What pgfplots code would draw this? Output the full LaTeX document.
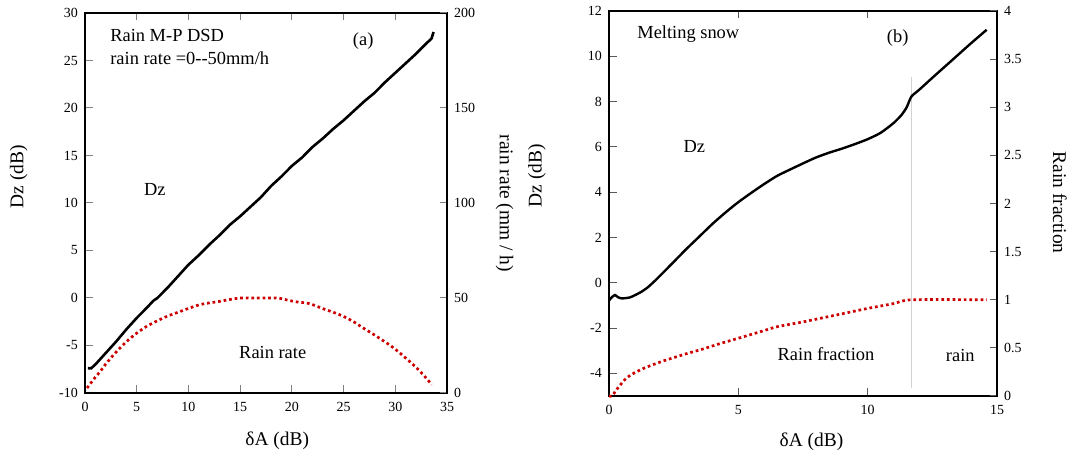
\documentclass[border=0pt]{standalone}
\usepackage{fontspec}
\setmainfont{Liberation Serif}
\usepackage{pgfplots}
\pgfplotsset{compat=1.18}
\definecolor{rred}{RGB}{204,0,0}
\pgfplotsset{
 base/.style={scale only axis, anchor=south west, tick align=inside, major tick length=7.5bp,
   tick label style={font=\fontsize{14}{16}\selectfont},
   /pgf/number format/assume math mode=true,
   label style={font=\fontsize{19.5}{22}\selectfont},
   xticklabel style={inner sep=9bp}, yticklabel style={inner sep=7bp},
   axis line style={line width=1.1bp}, tick style={line width=1bp}, clip=false},
 dzline/.style={black, line width=2.6bp, no markers},
 rrline/.style={rred, line width=2.7bp, dash pattern=on 2.7bp off 2.9bp, no markers}
}
\tikzset{ann/.style={font=\fontsize{18.5}{21}\selectfont, inner sep=0pt}}
\begin{document}
\begin{tikzpicture}
\path[use as bounding box] (0,0) rectangle (1072bp,459bp);
% ---------------- panel (a)
\begin{axis}[base, at={(85bp,66bp)}, width=362bp, height=380bp,
  xmin=0, xmax=35, ymin=-10, ymax=30,
  xtick={0,5,...,35}, ytick={-10,-5,...,30},
  xtick pos=both, xticklabel pos=lower, ytick pos=left,
  xlabel={δA (dB)}, ylabel={Dz (dB)},
  xlabel style={at={(axis description cs:0.531,-0.127)}, anchor=center},
  ylabel style={at={(axis description cs:-0.183,0.569)}, anchor=center}]
\addplot[dzline] coordinates {(0.27,-7.4)(0.6,-7.4)(1,-7.0)(2,-5.8)(3,-4.6)(4,-3.3)(5,-2.1)(6,-1.0)(6.6,-0.3)(7,0.0)(8,1.1)(9,2.3)(10,3.5)(11,4.5)(12,5.6)(13,6.6)(14,7.7)(15,8.6)(16,9.6)(17,10.6)(18,11.8)(19,12.8)(20,13.9)(21,14.8)(22,15.9)(23,16.8)(24,17.8)(25,18.7)(26,19.7)(27,20.7)(28,21.6)(29,22.7)(30,23.7)(31,24.7)(32,25.7)(33,26.8)(33.5,27.3)(33.7,28.0)};
\node[ann, anchor=west] at (axis cs:2.43,27.65) {Rain M-P DSD};
\node[ann, anchor=west] at (axis cs:2.43,25.2) {rain rate =0-{}-50mm/h};
\node[ann] at (axis cs:26.9,27.06) {(a)};
\node[ann] at (axis cs:6.76,11.44) {Dz};
\node[ann] at (axis cs:18.15,-5.73) {Rain rate};
\end{axis}
\begin{axis}[base, at={(85bp,66bp)}, width=362bp, height=380bp,
  xmin=0, xmax=35, ymin=0, ymax=200,
  axis x line=none, axis y line*=right, tick align=inside,
  ytick={0,50,100,150,200},
  ylabel={rain rate (mm / h)},
  ylabel style={at={(axis description cs:1.159,0.499)}, anchor=center, rotate=180}]
\addplot[rrline, smooth] coordinates {(0.2,2.6)(0.6,5.5)(1,8.3)(1.5,11.5)(2,15.2)(3,21.5)(4,27)(5,31.5)(6,35.2)(7,38)(8,40.5)(9,42.5)(10,44.5)(11.1,46.5)(12,47.4)(13,48.2)(14,49.2)(15,50)(16,50)(17,50)(18,50)(18.7,50)(19.5,49)(20.5,47.9)(21.4,47.4)(22,46.5)(23,44.4)(24,42.5)(25,40.3)(26,37.4)(26.9,34.2)(27.8,31.2)(28.7,28)(29.6,24.7)(30.45,21)(31.3,17)(32.07,13.2)(32.8,9)(33.52,4.4)};
\end{axis}
% ---------------- panel (b)
\begin{axis}[base, at={(609bp,63bp)}, width=388bp, height=385bp,
  xmin=0, xmax=15, ymin=-5, ymax=12,
  xtick={0,5,10,15}, ytick={-4,-2,0,2,4,6,8,10,12},
  xtick pos=both, xticklabel pos=lower, ytick pos=left,
  tick style={black!65},
  xlabel={δA (dB)}, ylabel={Dz (dB)},
  xlabel style={at={(axis description cs:0.522,-0.12)}, anchor=center},
  ylabel style={at={(axis description cs:-0.186,0.572)}, anchor=center}]
\addplot[gray!35, line width=0.8bp, no markers] coordinates {(11.7,-4.63)(11.7,9.07)};
\addplot[black, line width=2.4bp, no markers, smooth, tension=0.4] coordinates {(0,-0.79)(0.1,-0.65)(0.23,-0.54)(0.35,-0.64)(0.5,-0.69)(0.8,-0.65)(1.0,-0.55)(1.25,-0.4)(1.5,-0.2)(1.75,0.06)(2,0.34)(2.5,0.92)(3,1.5)(3.5,2.05)(4,2.6)(4.5,3.1)(5,3.56)(5.5,3.97)(6,4.36)(6.5,4.72)(7,5.0)(7.5,5.27)(8,5.53)(8.5,5.74)(9,5.92)(9.5,6.12)(10,6.34)(10.5,6.62)(11,7.05)(11.3,7.4)(11.5,7.73)(11.6,8.0)(11.7,8.24)(12,8.53)(12.5,9.05)(13,9.56)(13.5,10.07)(14,10.58)(14.6,11.17)};
\node[ann, anchor=west] at (axis cs:1.09,10.98) {Melting snow};
\node[ann] at (axis cs:11.16,10.8) {(b)};
\node[ann] at (axis cs:3.3,6.02) {Dz};
\node[ann] at (axis cs:8.39,-3.16) {Rain fraction};
\node[ann] at (axis cs:13.58,-3.2) {rain};
\end{axis}
\begin{axis}[base, at={(609bp,63bp)}, width=388bp, height=385bp,
  xmin=0, xmax=15, ymin=0, ymax=4,
  axis x line=none, axis y line*=right, tick align=inside,
  tick style={black!65},
  ytick={0,0.5,1,1.5,2,2.5,3,3.5,4},
  ylabel={Rain fraction},
  ylabel style={at={(axis description cs:1.162,0.502)}, anchor=center, rotate=180}]
\addplot[rrline, smooth, tension=0.4] coordinates {(0,0)(0.12,0.0)(0.25,0.05)(0.42,0.11)(0.65,0.18)(0.88,0.225)(1.2,0.27)(1.45,0.3)(2,0.355)(2.4,0.39)(3,0.44)(3.65,0.49)(4.3,0.545)(5,0.6)(6,0.68)(6.5,0.72)(7.5,0.77)(8.4,0.82)(9.2,0.865)(10,0.91)(11,0.96)(11.7,1.0)(14.6,1.0)};
\end{axis}
\end{tikzpicture}
\end{document}
